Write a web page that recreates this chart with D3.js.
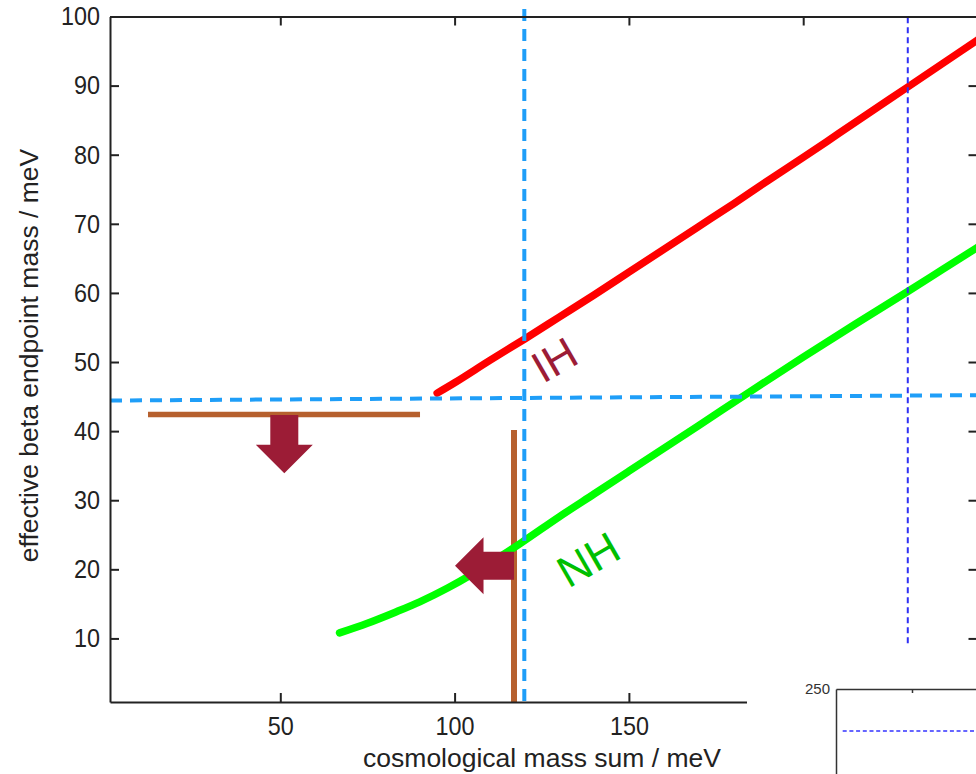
<!DOCTYPE html>
<html><head><meta charset="utf-8">
<script src="https://cdn.jsdelivr.net/npm/d3@7"></script>
<style>body{margin:0;background:#fff}svg{display:block}</style>
</head><body>
<svg id="c" width="976" height="774"></svg>
<script>
// ---- data ----
const ihSum  = [95, 100, 110, 120, 130, 140, 150, 160, 170, 180, 190, 200, 210, 220, 230, 240, 250];
const ihMass = [45.5, 47.0, 50.2, 53.3, 56.5, 59.7, 63.0, 66.3, 69.6, 72.9, 76.3, 79.6, 83.0, 86.4, 89.8, 93.2, 96.6];
const nhSum  = [67, 75, 83, 90, 98, 105, 112, 119, 130, 140, 150, 160, 170, 185, 200, 215, 230, 240, 250];
const nhMass = [10.8, 12.2, 13.8, 15.3, 17.3, 19.3, 21.5, 23.8, 27.6, 30.9, 34.2, 37.5, 40.8, 45.8, 50.7, 55.5, 60.2, 63.4, 66.6];
const xTicks = [50, 100, 150, 200];
const yTicks = [10, 20, 30, 40, 50, 60, 70, 80, 90, 100];
const xDomain = [1.15, 250];
const yDomain = [0.8, 100];
const xLabel = "cosmological mass sum / meV";
const yLabel = "effective beta endpoint mass / meV";
// overlay annotations (data units)
const cosmoLimitSum = 120, cosmoLimitRange = [101.1, 0.5];
const betaLimitSumRange = [1.15, 250], betaLimitMass = [44.43, 45.2];
const dottedSum = 230, dottedRange = [99.9, 9.05];
const brownHMass = 42.4, brownHRange = [12.05, 90.08];
const brownVSum = 117.04, brownVRange = [40.16, 0.8];
const arrows = [
  {tail: [51.15, 42.33], tip: [51.15, 33.9]},
  {tail: [117.04, 20.5], tip: [100.12, 20.5]}
];
const labels = [
  {text: "IH", sum: 130.8, mass: 48.4, color: "#9c1c36"},
  {text: "NH", sum: 140.6, mass: 19.5, color: "#00bf00"}
];
// inset
const insetYTicks = [250];
const insetXTicks = [100, 200];
const insetDotted = 215;

// ---- drawing ----
const svg = d3.select("#c");
const x = d3.scaleLinear().domain(xDomain).range([110, 977.5]);
const y = d3.scaleLinear().domain(yDomain).range([702, 16.5]);
const axisColor = "#222";
const font = "'Liberation Sans', Arial, sans-serif";

// brown lines
svg.append("line").attr("x1", x(brownHRange[0])).attr("x2", x(brownHRange[1]))
  .attr("y1", y(brownHMass)).attr("y2", y(brownHMass))
  .attr("stroke", "#b6602e").attr("stroke-width", 5.5);
svg.append("line").attr("x1", x(brownVSum)).attr("x2", x(brownVSum))
  .attr("y1", y(brownVRange[0])).attr("y2", y(brownVRange[1]))
  .attr("stroke", "#b6602e").attr("stroke-width", 6);

// curves
const line = d3.line().x(d => x(d[0])).y(d => y(d[1])).curve(d3.curveMonotoneX);
svg.append("path").datum(ihSum.map((s, i) => [s, ihMass[i]]))
  .attr("d", line).attr("fill", "none").attr("stroke", "#ff0000").attr("stroke-width", 7.5)
  .attr("stroke-linecap", "round");
svg.append("path").datum(nhSum.map((s, i) => [s, nhMass[i]]))
  .attr("d", line).attr("fill", "none").attr("stroke", "#00ff00").attr("stroke-width", 7.5)
  .attr("stroke-linecap", "round");

// blue dashed
svg.append("line").attr("x1", x(betaLimitSumRange[0])).attr("x2", x(betaLimitSumRange[1]))
  .attr("y1", y(betaLimitMass[0])).attr("y2", y(betaLimitMass[1]))
  .attr("stroke", "#1f9ef8").attr("stroke-width", 4).attr("stroke-dasharray", "12,8");
svg.append("line").attr("x1", x(cosmoLimitSum)).attr("x2", x(cosmoLimitSum))
  .attr("y1", y(cosmoLimitRange[0])).attr("y2", y(cosmoLimitRange[1]))
  .attr("stroke", "#1f9ef8").attr("stroke-width", 4).attr("stroke-dasharray", "12,8");
svg.append("line").attr("x1", x(dottedSum)).attr("x2", x(dottedSum))
  .attr("y1", y(dottedRange[0])).attr("y2", y(dottedRange[1]))
  .attr("stroke", "#2f2ff5").attr("stroke-width", 2).attr("stroke-dasharray", "6,4");

// arrows
const shaftW = 28, headW = 57, headL = 28.5;
arrows.forEach(a => {
  const tx = x(a.tail[0]), ty = y(a.tail[1]), px = x(a.tip[0]), py = y(a.tip[1]);
  const len = Math.hypot(px - tx, py - ty);
  const ux = (px - tx) / len, uy = (py - ty) / len, nx = -uy, ny = ux;
  const bx = px - ux * headL, by = py - uy * headL;
  const pts = [
    [tx + nx * shaftW / 2, ty + ny * shaftW / 2],
    [bx + nx * shaftW / 2, by + ny * shaftW / 2],
    [bx + nx * headW / 2, by + ny * headW / 2],
    [px, py],
    [bx - nx * headW / 2, by - ny * headW / 2],
    [bx - nx * shaftW / 2, by - ny * shaftW / 2],
    [tx - nx * shaftW / 2, ty - ny * shaftW / 2]
  ];
  svg.append("polygon").attr("points", pts.map(p => p.join(",")).join(" ")).attr("fill", "#9c1c36");
});

// labels
labels.forEach(l => {
  svg.append("text").attr("transform", `translate(${x(l.sum)},${y(l.mass)}) rotate(-30)`)
    .attr("text-anchor", "middle").attr("font-family", font).attr("font-size", 44)
    .attr("fill", l.color).text(l.text);
});

// axes
function styleAxis(g) {
  g.selectAll("path,line").attr("stroke", axisColor).attr("stroke-width", 2);
}
const gL = svg.append("g").attr("transform", "translate(110,0)")
  .call(d3.axisLeft(y).tickValues(yTicks).tickSize(-9).tickSizeOuter(0).tickPadding(10));
const gB = svg.append("g").attr("transform", "translate(0,702)")
  .call(d3.axisBottom(x).tickValues(xTicks).tickSize(-9).tickSizeOuter(0).tickPadding(14));
const gT = svg.append("g").attr("transform", "translate(0,16.5)")
  .call(d3.axisTop(x).tickValues(xTicks).tickSize(-9).tickSizeOuter(0).tickFormat(""));
const gR = svg.append("g").attr("transform", "translate(977.5,0)")
  .call(d3.axisRight(y).tickValues(yTicks).tickSize(-9).tickSizeOuter(0).tickFormat(""));
[gL, gB, gT, gR].forEach(styleAxis);
[gL, gB].forEach(g => {
  g.selectAll("text").attr("font-family", font).attr("font-size", 26).attr("fill", axisColor)
    .attr("lengthAdjust", "spacingAndGlyphs")
    .attr("textLength", d => String(d).length * 13);
});
gB.selectAll("text").attr("dy", "0.72em");

svg.append("text").attr("x", 542).attr("y", 767).attr("text-anchor", "middle")
  .attr("font-family", font).attr("font-size", 26.5).attr("fill", axisColor).text(xLabel);
svg.append("text").attr("transform", "translate(38,355.5) rotate(-90)").attr("text-anchor", "middle")
  .attr("font-family", font).attr("font-size", 26.5).attr("fill", axisColor).text(yLabel);

// inset (partly visible)
svg.append("rect").attr("x", 747).attr("y", 655).attr("width", 240).attr("height", 130).attr("fill", "#fff");
const ix = d3.scaleLinear().domain([0, 300]).range([836, 1064]);
const iy = d3.scaleLinear().domain([0, 250]).range([989, 689]);
svg.append("line").attr("x1", ix(8.8)).attr("x2", ix(300)).attr("y1", iy(insetDotted)).attr("y2", iy(insetDotted))
  .attr("stroke", "#3333ff").attr("stroke-width", 1.3).attr("stroke-dasharray", "4,2.7");
const giL = svg.append("g").attr("transform", "translate(836,0)")
  .call(d3.axisLeft(iy).tickValues(insetYTicks).tickSize(0).tickSizeOuter(0).tickPadding(6));
const giT = svg.append("g").attr("transform", "translate(0,689)")
  .call(d3.axisTop(ix).tickValues(insetXTicks).tickSize(-4).tickSizeOuter(0).tickFormat(""));
[giL, giT].forEach(g => g.selectAll("path,line").attr("stroke", "#333").attr("stroke-width", 1.5));
giL.selectAll("text").attr("font-family", font).attr("font-size", 15).attr("fill", "#333");
</script>
</body></html>
